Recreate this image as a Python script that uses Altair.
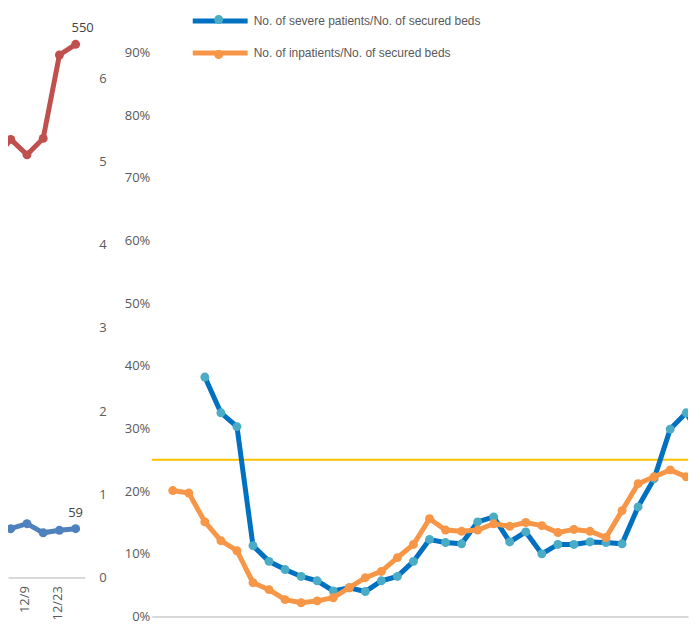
import json
import altair as alt
import pandas as pd

# ---------------- data ----------------
# Left (cropped) weekly chart
weeks = ["11/25", "12/2", "12/9", "12/16", "12/23", "12/30"]
red_values = [430, 452, 436, 453, 539, 550]
blue_left_values = [57, 59, 65, 54, 57, 59]
left_axis_ticks = [0, 1, 2, 3, 4, 5, 6]
left_tick_labels = ["12/9", "12/23"]

# Right chart: ratios in percent
sev_label = "No. of severe patients/No. of secured beds"
inp_label = "No. of inpatients/No. of secured beds"
severe = [None, None, 38.2, 32.5, 30.3, 11.3, 8.8, 7.5, 6.4, 5.7,
          4.1, 4.6, 4.0, 5.7, 6.4, 8.8, 12.3, 11.8, 11.6, 15.1,
          15.9, 11.9, 13.5, 10.0, 11.5, 11.5, 11.9, 11.8, 11.6, 17.5,
          22.0, 29.9, 32.5, 28.2]
inpatients = [20.1, 19.7, 15.1, 12.1, 10.5, 5.4, 4.3, 2.7, 2.2, 2.5,
              3.0, 4.6, 6.2, 7.2, 9.4, 11.5, 15.6, 13.8, 13.6, 13.8,
              14.8, 14.4, 15.0, 14.5, 13.4, 13.9, 13.6, 12.6, 16.9, 21.2,
              22.3, 23.4, 22.3, 23.0]
pct_ticks = [0, 10, 20, 30, 40, 50, 60, 70, 80, 90]
threshold = [25]

# ---------------- styling ----------------
AX_FONT = "Open Sans"
AX_COLOR = "#595959"
GRAY = "#d9d9d9"
LINE_PATH = "M-5.5,0L5.5,0"
CIRCLE_PATH = "M0.9,0A0.9,0.9 0 1,1 -0.9,0A0.9,0.9 0 1,1 0.9,0Z"

# ---------------- left panel ----------------
left_df = pd.DataFrame({"idx": list(range(len(weeks))), "week": weeks,
                        "red": red_values, "blue": blue_left_values})
label_expr = json.dumps(weeks) + "[datum.value]"
xl = alt.X("idx:Q",
           scale=alt.Scale(domain=[0.829, 5.571], nice=False, zero=False),
           axis=alt.Axis(values=[weeks.index(l) for l in left_tick_labels],
                         labelExpr=label_expr, labelAngle=-90, labelPadding=8, labelOffset=-2,
                         ticks=False, grid=False, domainColor=GRAY, domainWidth=2,
                         labelFont=AX_FONT, labelFontSize=13, labelColor=AX_COLOR,
                         title=None))

lb = alt.Chart(left_df)
last = alt.datum.week == weeks[-1]

y_red = alt.Y("red:Q", scale=alt.Scale(domain=[0, 587], nice=False), axis=None)
red_group = alt.layer(
    lb.mark_line(color="#c0504d", strokeWidth=5, clip=True).encode(x=xl, y=y_red),
    lb.mark_circle(color="#c0504d", size=80, opacity=1, clip=True).encode(x=xl, y=y_red),
    lb.transform_filter(last).mark_text(dy=-16, dx=7, font=AX_FONT, fontSize=13, color="#404040")
      .encode(x=xl, y=y_red, text=alt.Text("red:Q", format="d")),
)

y_blue = alt.Y("blue:Q", scale=alt.Scale(domain=[0, 686], nice=False), axis=None)
blue_group = alt.layer(
    lb.mark_line(color="#4f81bd", strokeWidth=5, clip=True).encode(x=xl, y=y_blue),
    lb.mark_circle(color="#4f81bd", size=80, opacity=1, clip=True).encode(x=xl, y=y_blue),
    lb.transform_filter(last).mark_text(dy=-16, dx=0, font=AX_FONT, fontSize=13, color="#404040")
      .encode(x=xl, y=y_blue, text=alt.Text("blue:Q", format="d")),
)

axis_layer = alt.Chart(pd.DataFrame({"v": left_axis_ticks})).mark_point(opacity=0).encode(
    y=alt.Y("v:Q", scale=alt.Scale(domain=[0, 6.84], nice=False),
            axis=alt.Axis(orient="right", values=left_axis_ticks, format="d",
                          ticks=False, domain=False, grid=False, labelPadding=14,
                          labelFont=AX_FONT, labelFontSize=13, labelColor=AX_COLOR,
                          minExtent=25, maxExtent=25, title=None))
)

left = alt.layer(red_group, blue_group, axis_layer).resolve_scale(y="independent").properties(
    width=77, height=570)

# ---------------- right panel ----------------
rows = []
for i, v in enumerate(severe):
    if v is not None:
        rows.append({"idx": i, "pct": v, "series": sev_label, "key": "sev"})
for i, v in enumerate(inpatients):
    rows.append({"idx": i, "pct": v, "series": inp_label, "key": "inp"})
right_df = pd.DataFrame(rows)

xr = alt.X("idx:Q", scale=alt.Scale(domain=[-1.307, 32.11], nice=False, zero=False),
           axis=alt.Axis(labels=False, ticks=False, grid=False, domainColor=GRAY,
                         domainWidth=2, title=None))
yr_scale = alt.Scale(domain=[0, 97], nice=False)
yr_axis = alt.Axis(values=pct_ticks, labelExpr="datum.value + '%'", ticks=False,
                   domain=False, grid=False, labelPadding=2, minExtent=28, maxExtent=28,
                   labelFont=AX_FONT, labelFontSize=13, labelColor=AX_COLOR, title=None)
yr = alt.Y("pct:Q", scale=yr_scale, axis=yr_axis)

LEG_X = 205
LEG_Y = 5
stroke_enc = alt.Stroke("series:N",
                        scale=alt.Scale(domain=[sev_label, inp_label], range=["#0070c0", "#f79646"]),
                        legend=alt.Legend(title=None, orient="none", legendX=LEG_X, legendY=LEG_Y,
                                          symbolType=LINE_PATH, symbolSize=100, symbolStrokeWidth=5,
                                          symbolOffset=0, padding=0, labelOffset=26, rowPadding=11,
                                          labelFont="Liberation Sans", labelFontSize=12,
                                          labelColor=AX_COLOR, labelLimit=400))
fill_enc = alt.Fill("key:N",
                    scale=alt.Scale(domain=["sev", "inp"], range=["#4bacc6", "#f79646"]),
                    legend=alt.Legend(title=None, orient="none", legendX=LEG_X, legendY=LEG_Y,
                                      symbolType=CIRCLE_PATH, symbolSize=100, symbolStrokeWidth=0,
                                      symbolOffset=0, padding=0, labelOffset=26, rowPadding=23,
                                      labelExpr="''", labelFontSize=12, zindex=1))

rb = alt.Chart(right_df)
rule = alt.Chart(pd.DataFrame({"t": threshold})).mark_rule(color="#ffc000", strokeWidth=2).encode(
    y=alt.Y("t:Q", scale=yr_scale, axis=yr_axis)
)

def series_layers(key):
    d = rb.transform_filter(alt.datum.key == key)
    line = d.mark_line(strokeWidth=5, clip=True).encode(x=xr, y=yr, stroke=stroke_enc)
    pts = d.mark_circle(size=80, opacity=1, clip=True).encode(x=xr, y=yr, fill=fill_enc)
    return [line, pts]

right = alt.layer(rule, *series_layers("sev"), *series_layers("inp")).properties(width=537, height=609)

chart = alt.hconcat(left, right, spacing=14).properties(padding=0).configure_view(stroke=None)

chart.save("out.html", embed_options={"renderer": "svg", "actions": False})
